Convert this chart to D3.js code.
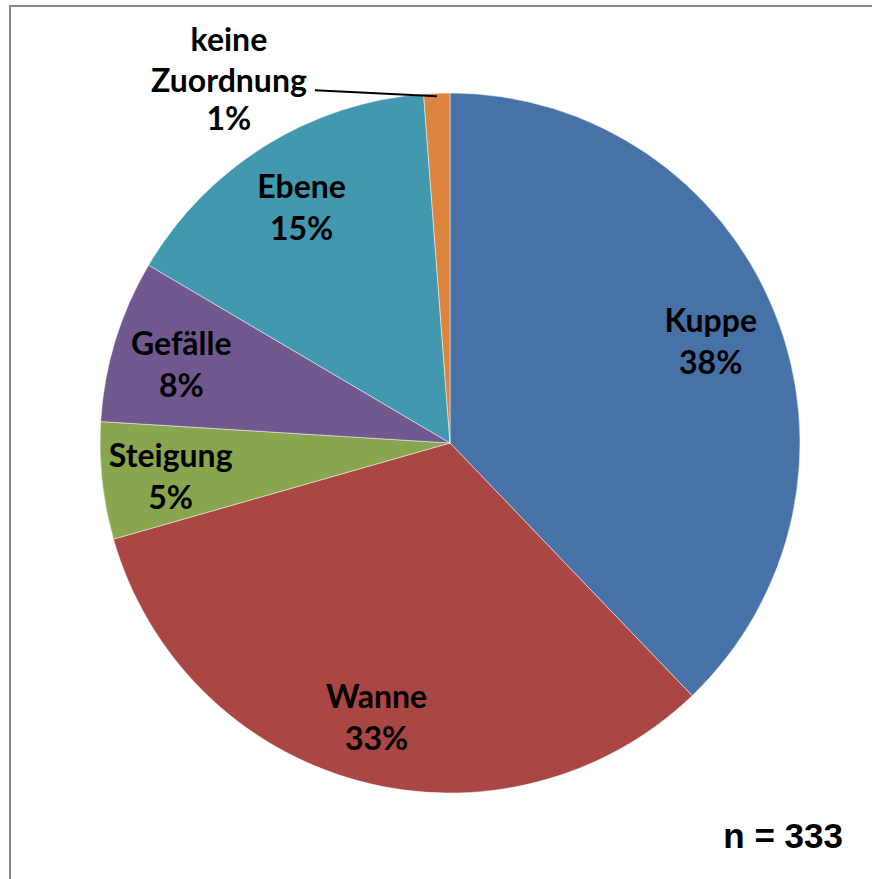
<!DOCTYPE html>
<html><head><meta charset="utf-8">
<script src="https://cdn.jsdelivr.net/npm/d3@7"></script>
<style>html,body{margin:0;padding:0;background:#fff;}svg{display:block;}</style>
</head><body>
<svg id="chart" width="872" height="879"></svg>
<script>
const categories = ["Kuppe", "Wanne", "Steigung", "Gefälle", "Ebene", "keine Zuordnung"];
const counts = [126, 109, 18, 25, 51, 4];
const percentLabels = ["38%", "33%", "5%", "8%", "15%", "1%"];
const colors = ["#4672A8", "#AA4644", "#89A54E", "#71588F", "#4198AF", "#DB843D"];
const sampleNote = "n = 333";

const svg = d3.select("#chart");
svg.append("rect").attr("x", 10).attr("y", 6).attr("width", 900).attr("height", 900)
  .attr("fill", "#fff").attr("stroke", "#898989").attr("stroke-width", 2);

const cx = 450, cy = 443, R = 350;
const data = categories.map((c, i) => ({name: c, value: counts[i], pct: percentLabels[i], color: colors[i]}));
const pie = d3.pie().value(d => d.value).sort(null);
const arcs = pie(data);
const arc = d3.arc().innerRadius(0).outerRadius(R);
const labelArc = d3.arc().innerRadius(281).outerRadius(281);
const edgeArc = d3.arc().innerRadius(347).outerRadius(347);

const g = svg.append("g").attr("transform", `translate(${cx},${cy})`);
g.selectAll("path.slice").data(arcs).join("path").attr("class", "slice")
  .attr("d", arc).attr("fill", d => d.data.color)
  .attr("stroke", "#ffffff").attr("stroke-opacity", 0.6).attr("stroke-width", 0.8);

const font = "Lato, 'Open Sans', sans-serif";
const fs = 32;
const lineH = 42;
const inside = arcs.slice(0, 5);
inside.forEach(a => {
  const [x, y] = labelArc.centroid(a);
  const t = g.append("text").attr("text-anchor", "middle").attr("font-family", font)
    .attr("font-weight", "bold").attr("font-size", fs).attr("fill", "#000");
  t.append("tspan").attr("x", x).attr("y", y - 6).text(a.data.name);
  t.append("tspan").attr("x", x).attr("y", y - 6 + lineH).text(a.data.pct);
});

// outside label for the small slice
const small = arcs[5];
const [ex, ey] = edgeArc.centroid(small);
const lx = ex - 122, ly = ey - 6;
g.append("line").attr("x1", lx).attr("y1", ly).attr("x2", ex).attr("y2", ey)
  .attr("stroke", "#000").attr("stroke-width", 2);
const words = small.data.name.split(" ");
const tx = lx - 86;
const t2 = g.append("text").attr("text-anchor", "middle").attr("font-family", font)
  .attr("font-weight", "bold").attr("font-size", fs).attr("fill", "#000");
t2.append("tspan").attr("x", tx).attr("y", ly - 39).text(words[0]);
t2.append("tspan").attr("x", tx).attr("y", ly + 2).text(words[1]);
t2.append("tspan").attr("x", tx).attr("y", ly + 40).text(small.data.pct);

svg.append("text").attr("x", 843).attr("y", 848).attr("text-anchor", "end")
  .attr("font-family", "'Liberation Sans', Arial, sans-serif").attr("font-weight", "bold")
  .attr("font-size", 35).attr("fill", "#000").text(sampleNote);
</script>
</body></html>
